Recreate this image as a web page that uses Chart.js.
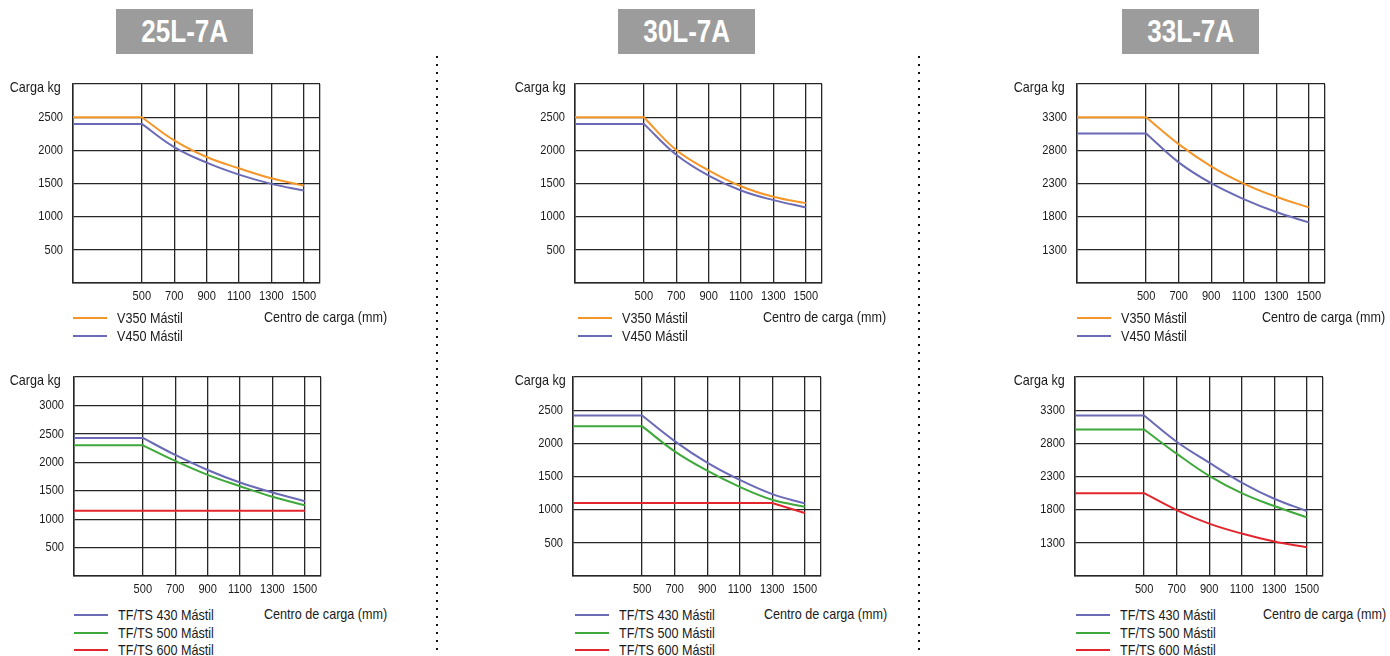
<!DOCTYPE html>
<html>
<head>
<meta charset="utf-8">
<script src="https://cdn.jsdelivr.net/npm/chart.js@4.4.1/dist/chart.umd.min.js"></script>
<style>
  body { margin: 0; width: 1390px; height: 656px; background: #fff; position: relative; overflow: hidden;
         font-family: "Liberation Sans", Arial, sans-serif; color: #1a1a1a; }
  .head { position: absolute; top: 9px; width: 137px; height: 45px; background: #9c9c9c; color: #fff;
          font-weight: bold; font-size: 31px; line-height: 46px; text-align: center; }
  .head span { display: inline-block; transform: scaleX(0.84); }
  .sep { position: absolute; top: 56px; width: 2px; height: 600px;
         background: repeating-linear-gradient(to bottom, #111 0 2px, transparent 2px 8px); }
  .lbl { position: absolute; font-size: 15px; line-height: 18px; white-space: nowrap;
         transform: scaleX(0.84); transform-origin: left center; }
  .key { position: absolute; height: 2px; width: 34px; }
  .box { position: absolute; }
</style>
</head>
<body>
<div class="head" style="left:116px"><span>25L-7A</span></div>
<div class="head" style="left:618px"><span>30L-7A</span></div>
<div class="head" style="left:1122px"><span>33L-7A</span></div>
<div class="sep" style="left:436px"></div>
<div class="sep" style="left:918px"></div>

<script>
// centro de carga (mm)
const centros = [500, 700, 900, 1100, 1300, 1500];
const xMin = 75, xMax = 1600;

// carga (kg) a cada centro de carga
// 25L-7A
const v350_25 = [2500, 2150, 1900, 1730, 1580, 1470];
const v450_25 = [2400, 2050, 1815, 1635, 1495, 1395];
const tf430_25 = [2430, 2130, 1865, 1645, 1470, 1315];
const tf500_25 = [2300, 2025, 1780, 1580, 1395, 1245];
const tf600_25 = [1150, 1150, 1150, 1150, 1150, 1150];
// 30L-7A
const v350_30 = [2500, 2005, 1700, 1460, 1300, 1205];
const v450_30 = [2400, 1935, 1620, 1395, 1250, 1140];
const tf430_30 = [2420, 2035, 1710, 1450, 1235, 1095];
const tf500_30 = [2260, 1880, 1590, 1345, 1150, 1045];
const tf600_30 = [1100, 1100, 1100, 1100, 1100, 950];
// 33L-7A
const v350_33 = [3300, 2895, 2560, 2300, 2100, 1940];
const v450_33 = [3055, 2620, 2305, 2065, 1870, 1715];
const tf430_33 = [3220, 2825, 2510, 2210, 1965, 1780];
const tf500_33 = [3010, 2645, 2310, 2050, 1855, 1685];
const tf600_33 = [2050, 1795, 1590, 1440, 1320, 1235];

const ORANGE = '#f5962a', BLUE = '#6a6ab6', GREEN = '#3ea93a', RED = '#e3262d';
const GRID = '#262626';

const panels = [
  { plot: [73, 78, 320, 283], yMin: 0, yMax: 3000, keyX: 73, cargaR: 60.5, centroX: 264, rows: [318, 18],
    series: [['V350 Mástil', ORANGE, v350_25], ['V450 Mástil', BLUE, v450_25]] },
  { plot: [575, 78, 822, 283], yMin: 0, yMax: 3000, keyX: 578, cargaR: 565.5, centroX: 763, rows: [318, 18],
    series: [['V350 Mástil', ORANGE, v350_30], ['V450 Mástil', BLUE, v450_30]] },
  { plot: [1077, 78, 1325, 283], yMin: 800, yMax: 3800, keyX: 1077, cargaR: 1065, centroX: 1262, rows: [318, 18],
    series: [['V350 Mástil', ORANGE, v350_33], ['V450 Mástil', BLUE, v450_33]] },
  { plot: [74, 371, 321, 576], yMin: 0, yMax: 3500, keyX: 74, cargaR: 60.5, centroX: 264, rows: [615, 17.5],
    series: [['TF/TS 430 Mástil', BLUE, tf430_25], ['TF/TS 500 Mástil', GREEN, tf500_25], ['TF/TS 600 Mástil', RED, tf600_25]] },
  { plot: [573, 371, 821, 576], yMin: 0, yMax: 3000, keyX: 575, cargaR: 565.5, centroX: 764, rows: [615, 17.5],
    series: [['TF/TS 430 Mástil', BLUE, tf430_30], ['TF/TS 500 Mástil', GREEN, tf500_30], ['TF/TS 600 Mástil', RED, tf600_30, 0]] },
  { plot: [1075, 371, 1323, 576], yMin: 800, yMax: 3800, keyX: 1076, cargaR: 1065, centroX: 1263, rows: [615, 17.5],
    series: [['TF/TS 430 Mástil', BLUE, tf430_33], ['TF/TS 500 Mástil', GREEN, tf500_33], ['TF/TS 600 Mástil', RED, tf600_33]] }
];

// flat from the left edge up to 500 mm, then the curve; 500 is given twice so the knee stays sharp
function toPoints(loads) {
  const pts = [{ x: xMin, y: loads[0] }, { x: centros[0], y: loads[0] }];
  centros.forEach((c, i) => pts.push({ x: c, y: loads[i] }));
  return pts;
}

function addText(text, css) {
  const d = document.createElement('div');
  d.className = 'lbl';
  d.textContent = text;
  Object.assign(d.style, css);
  document.body.appendChild(d);
  return d;
}

// no narrow font installed: squeeze the canvas text around its anchor point
const narrowText = {
  id: 'narrowText',
  beforeInit(chart) {
    const ctx = chart.ctx;
    const fill = ctx.fillText;
    ctx.fillText = function (text, x, y, maxWidth) {
      this.save();
      this.translate(x, y);
      this.scale(0.82, 1);
      if (maxWidth === undefined) fill.call(this, text, 0, 0);
      else fill.call(this, text, 0, 0, maxWidth / 0.82);
      this.restore();
    };
  }
};

Chart.defaults.font.family = '"Liberation Sans", Arial, sans-serif';
Chart.defaults.font.size = 13.5;
Chart.defaults.color = '#1a1a1a';

const YW = 60, XH = 28, PADT = 12, PADR = 6;
const hideEnds = (v, i, ticks) => (i === 0 || i === ticks.length - 1) ? '' : v;

panels.forEach(p => {
  const [l, t, r, b] = p.plot;
  const box = document.createElement('div');
  box.className = 'box';
  Object.assign(box.style, {
    left: (l - YW) + 'px', top: (t - PADT) + 'px',
    width: (YW + (r - l) + PADR) + 'px', height: (PADT + (b - t) + XH) + 'px'
  });
  const canvas = document.createElement('canvas');
  box.appendChild(canvas);
  document.body.appendChild(box);

  const chart = new Chart(canvas, {
    type: 'line',
    plugins: [narrowText],
    data: {
      datasets: p.series.map(s => ({
        label: s[0],
        data: toPoints(s[2]),
        borderColor: s[1],
        borderWidth: 2,
        pointRadius: 0,
        tension: s[3] === undefined ? 0.4 : s[3]
      }))
    },
    options: {
      responsive: true,
      maintainAspectRatio: false,
      animation: false,
      layout: { padding: { top: PADT, right: PADR, left: 0, bottom: 0 } },
      plugins: { legend: { display: false }, tooltip: { enabled: false } },
      scales: {
        x: {
          type: 'linear', min: xMin, max: xMax,
          afterBuildTicks: axis => { axis.ticks = [xMin, ...centros, xMax].map(value => ({ value })); },
          afterFit: axis => { axis.height = XH; },
          grid: { color: GRID, lineWidth: 1.3, drawTicks: false },
          border: { color: GRID, width: 1.5 },
          ticks: { callback: hideEnds, padding: 5, maxRotation: 0, autoSkip: false }
        },
        y: {
          min: p.yMin, max: p.yMax,
          afterFit: axis => { axis.width = YW; },
          grid: { color: GRID, lineWidth: 1.3, drawTicks: false },
          border: { color: GRID, width: 1.5 },
          ticks: { stepSize: 500, callback: hideEnds, padding: 10 }
        }
      }
    }
  });

  // axis titles
  const carga = addText('Carga kg', { top: (t + 9 - 9) + 'px', transformOrigin: 'right center' });
  carga.style.left = (p.cargaR - carga.offsetWidth) + 'px';
  addText('Centro de carga (mm)', { left: p.centroX + 'px', top: (p.rows[0] - 1.5 - 9) + 'px' });

  // legend from the chart's datasets
  chart.data.datasets.forEach((ds, i) => {
    const cy = p.rows[0] + i * p.rows[1];
    const key = document.createElement('div');
    key.className = 'key';
    Object.assign(key.style, { left: p.keyX + 'px', top: (cy - 1) + 'px', background: ds.borderColor });
    document.body.appendChild(key);
    addText(ds.label, { left: (p.keyX + 44) + 'px', top: (cy - 9) + 'px' });
  });
});
</script>
</body>
</html>
